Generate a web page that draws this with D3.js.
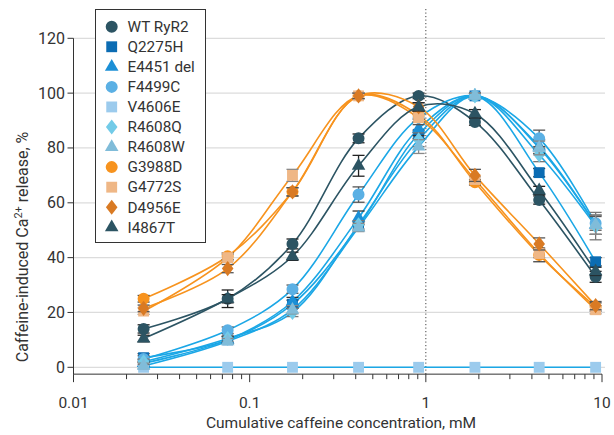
<!DOCTYPE html>
<html>
<head>
<meta charset="utf-8">
<script src="https://cdn.jsdelivr.net/npm/d3@7"></script>
<style>
body { margin: 0; background: #fff; }
text { font-family: Roboto, "DejaVu Sans Condensed", sans-serif; fill: #333; }
</style>
</head>
<body>
<script>
// cumulative caffeine concentration (mM)
var concentration = [0.025, 0.075, 0.175, 0.415, 0.91, 1.9, 4.4, 9.2];

var wtRyR2   = [14, 25, 45, 83.5, 99, 89.5, 61, 33];
var q2275h   = [3.5, 10, 23, 51.5, 85, 99, 71, 38.5];
var e4451del = [1.5, 10, 24, 54.5, 87, 99, 80.5, 52];
var f4499c   = [3, 13.5, 28.5, 63, 91, 99, 83.5, 52.5];
var v4606e   = [0, 0, 0, 0, 0, 0, 0, 0];
var r4608q   = [2, 10.5, 20, 52, 83, 99, 77.5, 51.5];
var r4608w   = [0.5, 9.5, 21, 51, 80.5, 99, 80, 52];
var g3988d   = [25, 40.5, 64, 99, 92, 67.5, 41, 22];
var g4772s   = [20.5, 40, 70, 99, 91, 68.5, 41.5, 21];
var d4956e   = [21.5, 36, 64, 99, 95, 70, 45, 22.5];
var i4867t   = [10.5, 25, 40.5, 73.5, 95, 92.5, 64.5, 35];

// SEM (upper/lower bars)
var wtRyR2Err   = [1.5, 3.2, 1.8, 1.6, 1, 1.2, 1.5, 2];
var q2275hErr   = [1.5, 1.2, 1.5, 1.5, 1.5, 1, 1.5, 1.5];
var e4451delErr = [1.2, 1.2, 1.5, 2.5, 2.5, 1, 2.5, 3.5];
var f4499cErr   = [1.2, 1.2, 1.5, 2.8, 2.5, 1, 3, 2.5];
var v4606eErr   = [0, 0, 0, 0, 0, 0, 0, 0];
var r4608qErr   = [1, 1, 1.5, 1.5, 2.5, 1, 2.5, 5];
var r4608wErr   = [1, 1, 1.5, 1.5, 2.5, 1, 2.5, 3.5];
var g3988dErr   = [1.2, 1.2, 1.5, 1, 1.5, 1, 2.5, 1.5];
var g4772sErr   = [1.2, 1.2, 2.2, 1, 1.5, 1, 1.5, 1.5];
var d4956eErr   = [1.2, 1.5, 1.5, 1, 1.5, 2.2, 2.2, 1.5];
var i4867tErr   = [1.2, 1.5, 1.5, 3.8, 1.5, 1.5, 1.5, 1.5];

var seriesNames = ["WT RyR2", "Q2275H", "E4451 del", "F4499C", "V4606E", "R4608Q", "R4608W", "G3988D", "G4772S", "D4956E", "I4867T"];
var seriesValues = [wtRyR2, q2275h, e4451del, f4499c, v4606e, r4608q, r4608w, g3988d, g4772s, d4956e, i4867t];
var seriesErrors = [wtRyR2Err, q2275hErr, e4451delErr, f4499cErr, v4606eErr, r4608qErr, r4608wErr, g3988dErr, g4772sErr, d4956eErr, i4867tErr];

var xTicksMajor = [0.01, 0.1, 1, 10];
var xTickLabels = ["0.01", "0.1", "1", "10"];
var yTicks = [0, 20, 40, 60, 80, 100, 120];

// styles
var markerColor = ["#2c5463", "#0b6cb3", "#1b8fd6", "#5bb0e4", "#9ccbed", "#72cbe8", "#80bcd9", "#f7931e", "#efb786", "#d97a23", "#2c5463"];
var lineColor = ["#2c5463", "#1ba7e6", "#1ba7e6", "#1ba7e6", "#1ba7e6", "#1ba7e6", "#1ba7e6", "#f7931e", "#f7931e", "#f7931e", "#2c5463"];
var errColor = ["#222", "#222", "#333", "#555", "#888", "#777", "#888", "#444", "#888", "#555", "#222"];

var diamondShape = {
  draw: function(ctx, size) {
    var w = 5.8, h = 7.6;
    ctx.moveTo(0, -h); ctx.lineTo(w, 0); ctx.lineTo(0, h); ctx.lineTo(-w, 0); ctx.closePath();
  }
};
var markerType = [d3.symbolCircle, d3.symbolSquare, d3.symbolTriangle, d3.symbolCircle, d3.symbolSquare, diamondShape, d3.symbolTriangle, d3.symbolCircle, d3.symbolSquare, diamondShape, d3.symbolTriangle];
var markerSize = [113, 118, 80, 113, 118, 100, 80, 113, 118, 100, 80];

var svg = d3.select("body").append("svg")
            .attr("width", 614)
            .attr("height", 435);

var x = d3.scaleLog().domain([0.01, 10]).range([73.5, 602]);
var y = d3.scaleLinear().domain([0, 120]).range([367.3, 38.3]);
var axisY = y(-2.5);

// gridlines
svg.selectAll(".grid").data(yTicks).enter().append("line")
   .attr("x1", x(0.01)).attr("x2", 605)
   .attr("y1", function(d){ return y(d); }).attr("y2", function(d){ return y(d); })
   .attr("stroke", "#dcdcdc").attr("stroke-width", 1.2);

// dotted line at 1 mM
svg.append("line")
   .attr("x1", x(1)).attr("x2", x(1))
   .attr("y1", 9).attr("y2", axisY)
   .attr("stroke", "#444").attr("stroke-width", 1)
   .attr("stroke-dasharray", "1.2,2.3");

// axes
svg.append("line").attr("x1", x(0.01)).attr("x2", x(10)).attr("y1", axisY).attr("y2", axisY)
   .attr("stroke", "#333").attr("stroke-width", 1);
svg.append("line").attr("x1", x(0.01)).attr("x2", x(0.01)).attr("y1", y(120)).attr("y2", axisY)
   .attr("stroke", "#333").attr("stroke-width", 1);

var allXTicks = x.ticks();
svg.selectAll(".xtick").data(allXTicks).enter().append("line")
   .attr("x1", function(d){ return x(d); }).attr("x2", function(d){ return x(d); })
   .attr("y1", axisY)
   .attr("y2", function(d){ return xTicksMajor.indexOf(d) >= 0 ? axisY + 8 : axisY + 5; })
   .attr("stroke", "#333").attr("stroke-width", 1);

svg.selectAll(".xlab").data(xTicksMajor).enter().append("text")
   .attr("x", function(d){ return x(d); })
   .attr("y", 407.5)
   .attr("text-anchor", "middle")
   .attr("font-size", 15.5)
   .text(function(d, i){ return xTickLabels[i]; });

svg.selectAll(".ytick").data(yTicks).enter().append("line")
   .attr("x1", x(0.01) - 6).attr("x2", x(0.01))
   .attr("y1", function(d){ return y(d); }).attr("y2", function(d){ return y(d); })
   .attr("stroke", "#333").attr("stroke-width", 1);

svg.selectAll(".ylab").data(yTicks).enter().append("text")
   .attr("x", 65)
   .attr("y", function(d){ return y(d) + 5.5; })
   .attr("text-anchor", "end")
   .attr("font-size", 16)
   .text(function(d){ return d; });

svg.append("text")
   .attr("x", 341).attr("y", 428)
   .attr("text-anchor", "middle")
   .attr("font-size", 15.5)
   .text("Cumulative caffeine concentration, mM");

var yTitle = svg.append("text")
   .attr("transform", "translate(28,247) rotate(-90)")
   .attr("text-anchor", "middle")
   .attr("font-size", 16);
yTitle.append("tspan").text("Caffeine-induced Ca");
yTitle.append("tspan").attr("dy", -6).attr("font-size", 11).text("2+");
yTitle.append("tspan").attr("dy", 6).text(" release, %");

// fitted curves
var line = d3.line()
   .x(function(d){ return x(d[0]); })
   .y(function(d){ return y(d[1]); })
   .curve(d3.curveCatmullRom.alpha(0.5));

seriesValues.forEach(function(vals, s){
  var pts = concentration.map(function(c, i){ return [c, vals[i]]; });
  svg.append("path")
     .attr("d", line(pts))
     .attr("fill", "none")
     .attr("stroke", lineColor[s])
     .attr("stroke-width", 1.6);
});

// error bars and markers
seriesValues.forEach(function(vals, s){
  var g = svg.append("g");
  concentration.forEach(function(c, i){
    var e = seriesErrors[s][i];
    if (e > 0) {
      var cx = x(c);
      g.append("line").attr("x1", cx).attr("x2", cx)
       .attr("y1", y(vals[i] - e)).attr("y2", y(vals[i] + e))
       .attr("stroke", errColor[s]).attr("stroke-width", 1.3);
      [vals[i] - e, vals[i] + e].forEach(function(v){
        g.append("line").attr("x1", cx - 6).attr("x2", cx + 6)
         .attr("y1", y(v)).attr("y2", y(v))
         .attr("stroke", errColor[s]).attr("stroke-width", 1.3);
      });
    }
  });
  g.selectAll("path").data(vals).enter().append("path")
   .attr("d", d3.symbol().type(markerType[s]).size(markerSize[s]))
   .attr("transform", function(d, i){ return "translate(" + x(concentration[i]) + "," + y(d) + ")"; })
   .attr("fill", markerColor[s]);
});

// legend
svg.append("rect")
   .attr("x", 95.5).attr("y", 9.5)
   .attr("width", 110).attr("height", 233)
   .attr("fill", "#fff").attr("stroke", "#333").attr("stroke-width", 1);

seriesNames.forEach(function(name, s){
  var ly = 26.7 + s * 20.06;
  svg.append("path")
     .attr("d", d3.symbol().type(markerType[s]).size(markerSize[s]))
     .attr("transform", "translate(111.7," + ly + ")")
     .attr("fill", markerColor[s]);
  svg.append("text")
     .attr("x", 127.5).attr("y", ly + 5.3)
     .attr("font-size", 15.3)
     .text(name);
});
</script>
</body>
</html>
